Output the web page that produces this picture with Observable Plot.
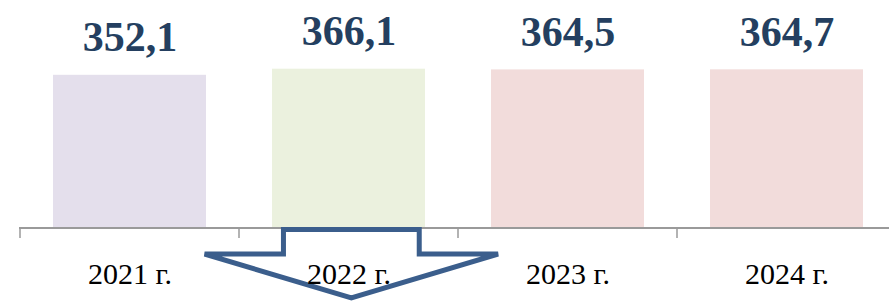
<!DOCTYPE html>
<html>
<head>
<meta charset="utf-8">
<script src="https://cdn.jsdelivr.net/npm/d3@7"></script>
<script src="https://cdn.jsdelivr.net/npm/@observablehq/plot@0.6"></script>
<style>
  html, body { margin: 0; padding: 0; background: #fff; }
  #chart svg { display: block; }
</style>
</head>
<body>
<div id="chart"></div>
<script>
// Data
const years = ["2021 г.", "2022 г.", "2023 г.", "2024 г."];
const values = [352.1, 366.1, 364.5, 364.7];
const labels = ["352,1", "366,1", "364,5", "364,7"];
const barColors = ["#e4dfec", "#ebf1de", "#f2dcdb", "#f2dcdb"];

const data = years.map((year, i) => ({year, value: values[i], label: labels[i], color: barColors[i]}));

const serif = "'Liberation Serif', 'DejaVu Serif', serif";

// Axis line + ticks at band boundaries
function axisMark(index, scales, vals, dims) {
  const x = scales.x, y = scales.y;
  const bw = x.bandwidth();
  const y0 = y(0);
  const g = d3.create("svg:g");
  g.append("line")
    .attr("x1", dims.marginLeft).attr("x2", dims.width - dims.marginRight)
    .attr("y1", y0).attr("y2", y0)
    .attr("stroke", "#9a9a9a").attr("stroke-width", 2);
  const edges = years.map(d => x(d)).concat([x(years[years.length - 1]) + bw]);
  for (const e of edges) {
    g.append("line")
      .attr("x1", e).attr("x2", e)
      .attr("y1", y0).attr("y2", y0 + 10)
      .attr("stroke", "#9a9a9a").attr("stroke-width", 1.5);
  }
  return g.node();
}

// Down arrow annotation under the 2022 category (shape relative to band)
function arrowMark(index, scales, vals, dims) {
  const x = scales.x, y = scales.y;
  const bw = x.bandwidth();
  const x0 = x(years[1]);
  const y0 = y(0);
  const sx = f => x0 + f * bw;
  const pts = [
    [sx(0.203), y0 + 1.5],
    [sx(0.823), y0 + 1.5],
    [sx(0.823), y0 + 26],
    [sx(1.183), y0 + 26],
    [sx(0.513), y0 + 70],
    [sx(-0.157), y0 + 26],
    [sx(0.203), y0 + 26]
  ];
  const g = d3.create("svg:g");
  g.append("path")
    .attr("d", "M" + pts.map(p => p.join(",")).join("L") + "Z")
    .attr("fill", "none")
    .attr("stroke", "#3b5e8c")
    .attr("stroke-width", 5)
    .attr("stroke-linejoin", "miter");
  return g.node();
}

const chart = Plot.plot({
  width: 889,
  height: 305,
  marginTop: 0,
  marginLeft: 19,
  marginRight: 0,
  marginBottom: 77,
  x: {domain: years, range: [19, 897], padding: 0, axis: null},
  y: {domain: [0, 524], range: [228, 0], axis: null},
  marks: [
    Plot.barY(data, {x: "year", y: "value", fill: "color", insetLeft: 33, insetRight: 33}),
    axisMark,
    Plot.text(data, {
      x: "year", y: "value", text: "label", dy: -24, lineAnchor: "bottom",
      fontSize: 42, fontWeight: "bold", fontFamily: serif, fill: "#243f60"
    }),
    arrowMark,
    Plot.text(data, {
      x: "year", text: "year", frameAnchor: "bottom", dy: 55, lineAnchor: "bottom",
      fontSize: 30, fontFamily: serif, fill: "#000"
    })
  ]
});
document.getElementById("chart").appendChild(chart);
</script>
</body>
</html>
